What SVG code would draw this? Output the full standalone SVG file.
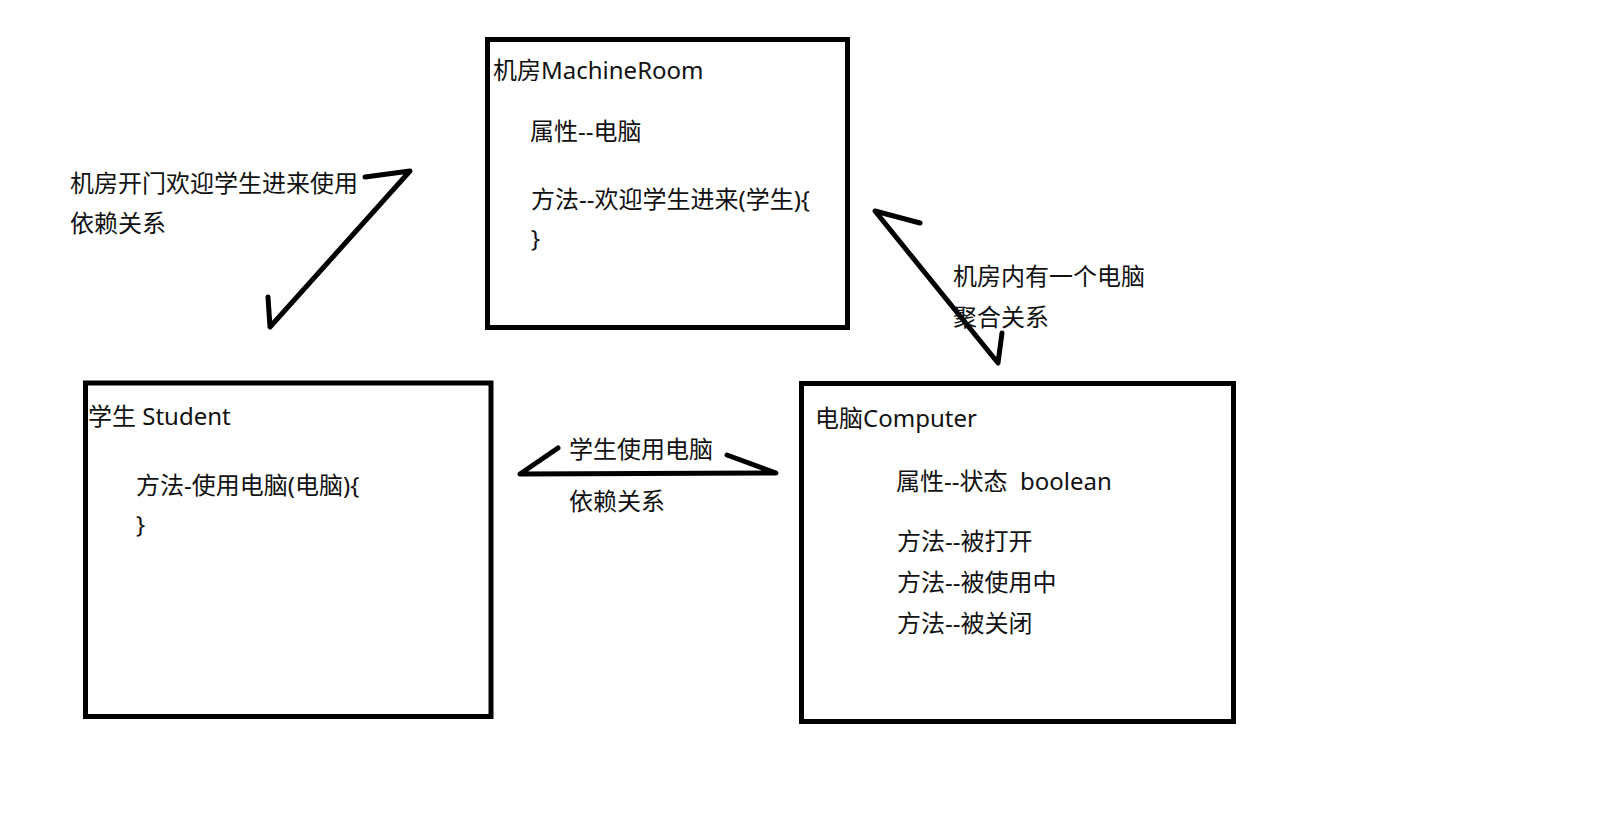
<svg xmlns="http://www.w3.org/2000/svg" width="1604" height="822" viewBox="0 0 1604 822">
<style>
text{font-family:"Noto Sans","Noto Sans CJK SC",sans-serif;font-size:24px;fill:#111;white-space:pre}
.box{fill:#fff;stroke:#000;stroke-width:5}
.ln{fill:none;stroke:#000;stroke-width:5;stroke-linecap:round;stroke-linejoin:round}
</style>
<rect width="1604" height="822" fill="#fff"/>
<g id="machineroom">
<rect class="box" x="487.5" y="39.5" width="360" height="288"/>
<text x="493" y="79">机房MachineRoom</text>
<text x="530" y="140">属性--电脑</text>
<text x="531" y="208">方法--欢迎学生进来(学生){</text>
<text x="531" y="247">}</text>
</g>
<g id="student">
<rect class="box" x="85.5" y="383" width="405.5" height="333.5"/>
<text x="88" y="425">学生 Student</text>
<text x="136" y="494">方法-使用电脑(电脑){</text>
<text x="136" y="533">}</text>
</g>
<g id="computer">
<rect class="box" x="801.5" y="383.5" width="432" height="338"/>
<text x="815" y="427">电脑Computer</text>
<text x="896" y="490" xml:space="preserve">属性--状态  boolean</text>
<text x="897" y="550">方法--被打开</text>
<text x="897" y="591">方法--被使用中</text>
<text x="897" y="632">方法--被关闭</text>
</g>
<g id="connectors">
<polyline class="ln" points="365,177 410,171 270,327 268,297"/>
<polyline class="ln" points="920,223 875,211 998,363 1002,333"/>
<polyline class="ln" points="558,448 520,474 776,473 727,455"/>
</g>
<g id="labels">
<text x="70" y="192">机房开门欢迎学生进来使用</text>
<text x="70" y="232">依赖关系</text>
<text x="953" y="285">机房内有一个电脑</text>
<text x="953" y="326">聚合关系</text>
<text x="569" y="458">学生使用电脑</text>
<text x="569" y="510">依赖关系</text>
</g>
</svg>
